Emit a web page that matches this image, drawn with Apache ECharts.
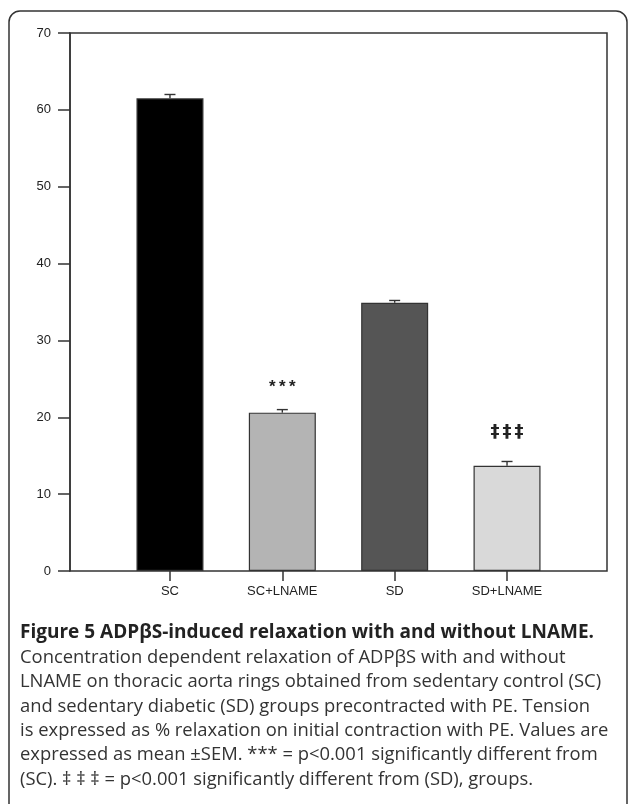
<!DOCTYPE html>
<html>
<head>
<meta charset="utf-8">
<script src="https://cdn.jsdelivr.net/npm/echarts@6/dist/echarts.min.js"></script>
<style>
html,body{margin:0;padding:0;background:#fff;}
#chart{width:629px;height:804px;}
</style>
</head>
<body>
<div id="chart"></div>
<script>
var categories = ['SC', 'SC+LNAME', 'SD', 'SD+LNAME'];
var means = [61.5, 20.6, 34.9, 13.7];
var sems = [0.5, 0.4, 0.3, 0.55];
var marks = ['', '***', '', '\u2021\u2021\u2021'];
var barColors = ['#000000', '#b4b4b4', '#555555', '#d9d9d9'];
var yTicks = [0, 10, 20, 30, 40, 50, 60, 70];

var captionTitle = 'Figure 5 ADP\u03b2S-induced relaxation with and without LNAME.';
var captionLines = [
  'Concentration dependent relaxation of ADP\u03b2S with and without',
  'LNAME on thoracic aorta rings obtained from sedentary control (SC)',
  'and sedentary diabetic (SD) groups precontracted with PE. Tension',
  'is expressed as % relaxation on initial contraction with PE. Values are',
  'expressed as mean \u00b1SEM. *** = p<0.001 significantly different from',
  '(SC). \u2021 \u2021 \u2021 = p<0.001 significantly different from (SD), groups.'
];

var chart = echarts.init(document.getElementById('chart'), null, {renderer: 'canvas'});

var graphics = [{
  type: 'rect', shape: {x: 9, y: 11, width: 618, height: 820, r: 11},
  style: {fill: 'none', stroke: '#333', lineWidth: 1.5}, z: 0
}, {
  type: 'text', x: 20, y: 633,
  style: {text: captionTitle, font: 'bold 19px "Open Sans"', fill: '#222', textVerticalAlign: 'middle'}
}];
captionLines.forEach(function (t, i) {
  graphics.push({
    type: 'text', x: 20, y: 657.5 + i * 24.4,
    style: {text: t, font: '18.4px "Open Sans"', fill: '#333', textVerticalAlign: 'middle'}
  });
});

var errData = categories.map(function (c, i) { return [i, means[i], sems[i], marks[i]]; });

chart.setOption({
  animation: false,
  backgroundColor: '#fff',
  graphic: graphics,
  grid: [
    {left: 70, right: 22, top: 33, bottom: 233, show: true, borderColor: '#333', borderWidth: 1.5, backgroundColor: 'transparent'},
    {left: 113.8, right: 65.8, top: 33, bottom: 233}
  ],
  xAxis: [
    {gridIndex: 0, type: 'value', min: 0, max: 1, show: false},
    {gridIndex: 1, type: 'category', data: categories,
     axisLine: {show: false},
     axisTick: {show: true, alignWithLabel: true, length: 10, lineStyle: {color: '#333', width: 1.5}},
     axisLabel: {color: '#222', fontFamily: 'Liberation Sans, Arial', fontSize: 13, margin: 14}}
  ],
  yAxis: [
    {gridIndex: 0, type: 'value', min: 0, max: 70, interval: 10,
     axisLine: {show: true, lineStyle: {color: '#333', width: 1.5}},
     axisTick: {show: true, length: 12, lineStyle: {color: '#333', width: 1.5}},
     splitLine: {show: false},
     axisLabel: {color: '#222', fontFamily: 'Liberation Sans, Arial', fontSize: 13, margin: 19,
       formatter: function (v) { return yTicks.indexOf(v) >= 0 ? String(v) : ''; }}},
    {gridIndex: 1, type: 'value', min: 0, max: 70, show: false}
  ],
  series: [{
    type: 'bar', xAxisIndex: 1, yAxisIndex: 1, barWidth: 67,
    data: means.map(function (v, i) {
      return {value: v, itemStyle: {color: barColors[i]}};
    }),
    itemStyle: {borderColor: '#333', borderWidth: 1.2}
  }, {
    type: 'custom', xAxisIndex: 1, yAxisIndex: 1,
    data: errData,
    renderItem: function (params, api) {
      var i = api.value(0), m = api.value(1), s = api.value(2);
      var base = api.coord([i, m]);
      var top = api.coord([i, m + s]);
      var children = [
        {type: 'line', shape: {x1: base[0], y1: base[1], x2: top[0], y2: top[1]}, style: {stroke: '#333', lineWidth: 1.4}},
        {type: 'line', shape: {x1: top[0] - 5.5, y1: top[1], x2: top[0] + 5.5, y2: top[1]}, style: {stroke: '#333', lineWidth: 1.4}}
      ];
      var mk = errData[params.dataIndex][3];
      if (mk) {
        var isStar = mk.charAt(0) === '*';
        var chars = mk.split('');
        var step = isStar ? 10 : 12;
        chars.forEach(function (ch, k) {
          children.push({type: 'text', x: top[0] + (k - (chars.length - 1) / 2) * step,
            y: top[1] - (isStar ? 22 : 29),
            style: {text: ch, textAlign: 'center', textVerticalAlign: 'middle',
              font: isStar ? 'bold 17px "Liberation Sans"' : 'bold 18px "DejaVu Sans"', fill: '#222'}});
        });
      }
      return {type: 'group', children: children};
    },
    z: 5
  }]
});
</script>
</body>
</html>
